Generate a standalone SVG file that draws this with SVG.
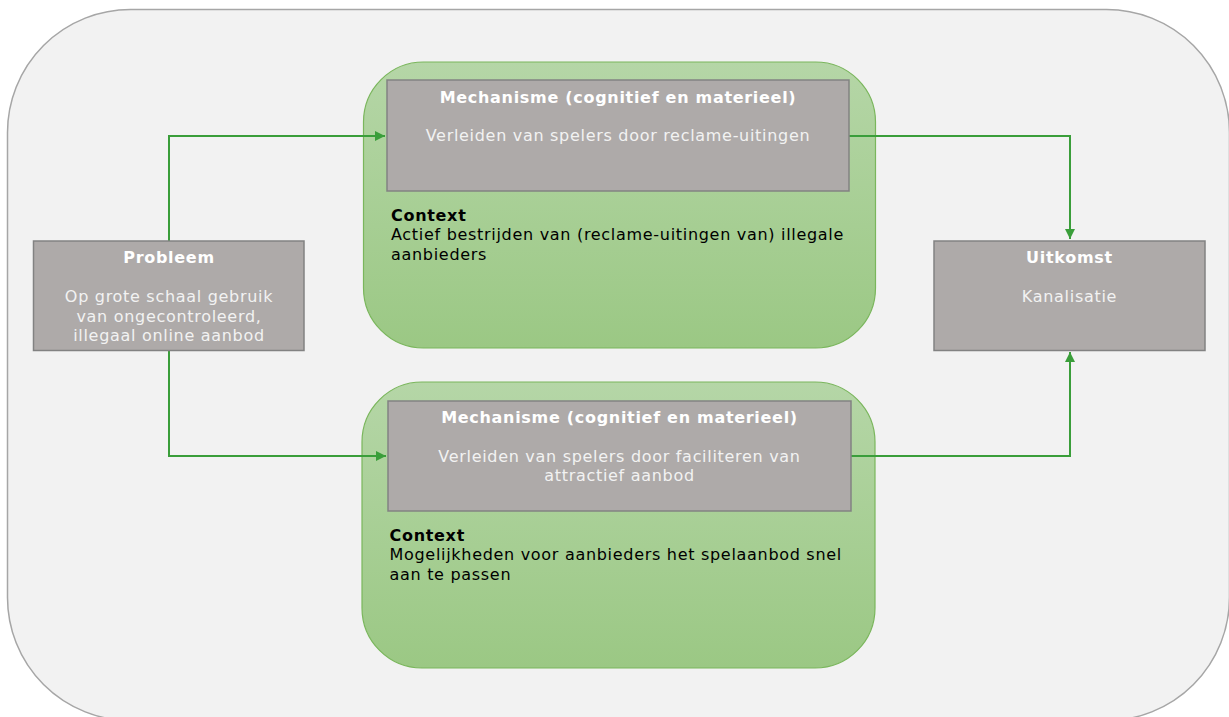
<svg xmlns="http://www.w3.org/2000/svg" width="1229" height="717" viewBox="0 0 1229 717">
<defs>
<linearGradient id="gg" x1="0" y1="0" x2="0" y2="1">
<stop offset="0" stop-color="#b5d6a7"/>
<stop offset="1" stop-color="#9bc884"/>
</linearGradient>
<marker id="ah" viewBox="0 0 10 10" refX="10" refY="5" markerWidth="10" markerHeight="10" markerUnits="userSpaceOnUse" orient="auto">
<path d="M0,0 L10,5 L0,10 z" fill="#3a9e3a"/>
</marker>
<style>
.grp{fill:url(#gg);stroke:#7ab65c;stroke-width:1.2}
.box{fill:#aeaaa9;stroke:#828282;stroke-width:1.5}
.t{font-family:"DejaVu Sans",Verdana,sans-serif;font-size:16px;letter-spacing:0.7px}
.ttl{fill:#ffffff;font-weight:bold;text-anchor:middle}
.bd{fill:#f2f2f2;text-anchor:middle}
.cx{fill:#000000}
.cxb{fill:#000000;font-weight:bold}
.cn{fill:none;stroke:#3a9e3a;stroke-width:2}
</style>
</defs>
<rect x="7.5" y="9.5" width="1222" height="711" rx="123" ry="123" fill="#f2f2f2" stroke="#a6a6a6" stroke-width="1.5"/>
<g id="group-top">
<rect class="grp" x="363.5" y="62" width="512" height="286" rx="60" ry="60"/>
</g>
<g id="group-bottom">
<rect class="grp" x="362" y="382" width="513" height="286" rx="60" ry="60"/>
</g>
<g id="connectors">
<path class="cn" d="M169,241 V136 H385" marker-end="url(#ah)"/>
<path class="cn" d="M169,350 V456 H386" marker-end="url(#ah)"/>
<path class="cn" d="M849,136 H1070 V239" marker-end="url(#ah)"/>
<path class="cn" d="M851,456 H1070 V352" marker-end="url(#ah)"/>
</g>
<g id="probleem">
<rect class="box" x="33.5" y="241" width="270.5" height="109.5"/>
<text class="t ttl" x="169" y="263">Probleem</text>
<text class="t bd" x="169" y="302">Op grote schaal gebruik</text>
<text class="t bd" x="169" y="321.5">van ongecontroleerd,</text>
<text class="t bd" x="169" y="341">illegaal online aanbod</text>
</g>
<g id="mechanisme-1">
<rect class="box" x="387" y="80" width="462" height="111"/>
<text class="t ttl" x="618" y="103">Mechanisme (cognitief en materieel)</text>
<text class="t bd" x="618" y="141">Verleiden van spelers door reclame-uitingen</text>
</g>
<g id="context-1">
<text class="t cxb" x="391" y="221">Context</text>
<text class="t cx" x="391" y="240">Actief bestrijden van (reclame-uitingen van) illegale</text>
<text class="t cx" x="391" y="259.5">aanbieders</text>
</g>
<g id="mechanisme-2">
<rect class="box" x="388" y="401" width="463" height="110"/>
<text class="t ttl" x="619.5" y="423">Mechanisme (cognitief en materieel)</text>
<text class="t bd" x="619.5" y="462">Verleiden van spelers door faciliteren van</text>
<text class="t bd" x="619.5" y="481">attractief aanbod</text>
</g>
<g id="context-2">
<text class="t cxb" x="389.5" y="541">Context</text>
<text class="t cx" x="389.5" y="560">Mogelijkheden voor aanbieders het spelaanbod snel</text>
<text class="t cx" x="389.5" y="579.5">aan te passen</text>
</g>
<g id="uitkomst">
<rect class="box" x="934" y="241" width="271" height="109.5"/>
<text class="t ttl" x="1069.5" y="263">Uitkomst</text>
<text class="t bd" x="1069.5" y="302">Kanalisatie</text>
</g>
</svg>
